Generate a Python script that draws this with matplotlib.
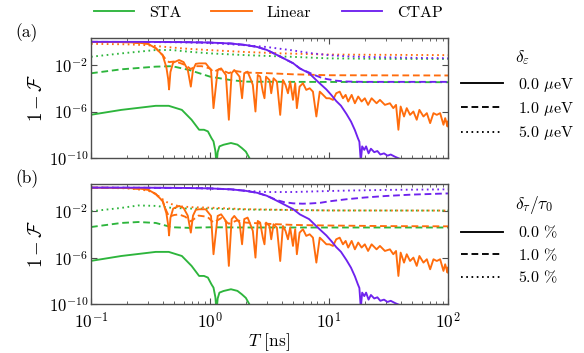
import numpy as np
import matplotlib
matplotlib.use("Agg")
import matplotlib.pyplot as plt
from matplotlib.lines import Line2D

plt.rcParams['font.family'] = 'serif'
plt.rcParams['font.serif'] = ['cmr10', 'DejaVu Serif']
plt.rcParams['mathtext.fontset'] = 'cm'
plt.rcParams['axes.unicode_minus'] = False
plt.rcParams['font.size'] = 11

# ---------------- data (log10 of 1-F) ----------------
# ideal (delta = 0) curves, shared by both panels
T_sta0 = [0.1, 0.18, 0.35, 0.45, 0.58, 0.7, 0.81, 0.89, 0.96, 1.03, 1.07, 1.11, 1.135,
          1.16, 1.2, 1.3, 1.5, 1.7, 1.85, 2.0, 2.17, 2.3]
L_sta0 = [-6.28, -5.86, -5.51, -5.51, -5.86, -6.71, -7.57, -7.57, -7.71, -8.3, -8.57, -9.4, -10.6,
          -9.5, -9.0, -8.86, -8.71, -8.85, -9.14, -9.45, -10.1, -10.8]

T_lin0 = [0.1, 0.15, 0.2, 0.25, 0.3, 0.35, 0.4, 0.43, 0.445, 0.453, 0.465, 0.49, 0.55, 0.6, 0.65,
          0.69, 0.72, 0.76, 0.81, 0.92, 1.02, 1.07, 1.16, 1.24, 1.36, 1.44, 1.52, 1.60, 1.77,
          1.86, 1.94, 2.07, 2.21, 2.29, 2.41, 2.52, 2.64, 2.78, 2.87, 2.96, 3.16, 3.27, 3.42,
          3.65, 3.89, 4.10, 4.31, 4.52, 4.72, 4.98, 5.20, 5.37, 5.66, 6.04, 6.44, 6.88, 7.33,
          7.83, 8.36, 8.92, 9.51, 10.1, 10.8, 11.5, 12.3, 13.1, 13.8, 14.5, 15.5, 16.5, 17.6,
          18.8, 20.0, 21.3, 22.8, 25.1, 26.8, 29.5, 32.5, 34.7, 36.6, 38.3, 40.0, 42.7, 45.0,
          48.0, 51.2, 54.6, 57.5, 62.2, 66.4, 70.8, 75.5, 80.5, 85.9, 91.6, 94.7, 99.0, 100.0]
L_lin0 = [-0.01, -0.02, -0.04, -0.08, -0.17, -0.55, -1.15, -2.2, -3.2, -4.1, -2.6, -1.8, -1.57,
          -1.75, -2.4, -3.86, -2.4, -1.9, -1.86, -1.86, -2.43, -5.71, -2.43, -2.29, -2.86, -6.71,
          -2.7, -2.43, -3.0, -4.86, -2.7, -2.57, -3.29, -3.71, -6.0, -2.86, -3.0, -4.29, -4.86,
          -3.0, -3.29, -4.43, -3.14, -3.43, -6.29, -3.29, -3.71, -4.43, -3.43, -5.0, -3.57,
          -5.71, -3.86, -3.57, -4.14, -4.0, -4.29, -6.43, -4.29, -4.57, -4.86, -4.86, -5.0,
          -4.43, -4.29, -4.86, -4.57, -5.14, -4.57, -5.29, -4.71, -5.14, -4.86, -5.43, -4.86,
          -5.29, -5.0, -5.43, -5.29, -5.71, -5.43, -7.57, -5.57, -6.43, -5.71, -6.29, -6.0,
          -6.71, -5.86, -6.43, -6.14, -7.0, -6.14, -6.29, -6.14, -7.14, -6.57, -7.29, -6.86]

T_ctap0 = [0.1, 0.3, 0.6, 1.0, 1.5, 2.0, 2.5, 3.0, 3.6, 4.2, 5.0, 5.7, 6.8, 8.0, 9.5, 10.5,
           11.5, 12.6, 14.0, 15.3, 16.5, 17.5, 18.0, 18.5, 19.0, 19.8, 20.5, 21.5, 22.5, 24.0,
           25.5, 27.0, 29.0, 31.0, 33.0, 36.0, 40.0, 45.0, 100.0]
L_ctap0 = [-0.005, -0.01, -0.03, -0.07, -0.15, -0.28, -0.45, -0.7, -1.1, -1.45, -1.85, -2.3,
           -2.7, -3.4, -4.1, -4.6, -5.1, -5.5, -6.2, -6.86, -7.6, -8.3, -8.6, -10.3, -9.0, -9.3,
           -9.0, -9.6, -9.2, -9.5, -9.4, -9.7, -9.6, -9.8, -9.7, -9.9, -10.1, -10.4, -11.0]

# panel (a): detuning noise delta_eps = 1.0 and 5.0 ueV
T_sta_a1 = [0.1, 0.18, 0.35, 0.48, 0.67, 1.0, 1.5, 2.0, 5.0, 100.0]
L_sta_a1 = [-2.71, -2.37, -2.14, -2.1, -2.43, -3.0, -3.3, -3.43, -3.45, -3.48]
T_sta_a5 = [0.1, 0.18, 0.35, 0.48, 0.67, 1.0, 2.0, 5.0, 10.0, 30.0, 100.0]
L_sta_a5 = [-1.29, -1.0, -0.71, -0.71, -0.86, -1.0, -1.15, -1.3, -1.43, -1.47, -1.48]

T_lin_a1 = [0.1, 0.2, 0.3, 0.35, 0.4, 0.43, 0.453, 0.5, 0.55, 0.62, 0.69, 0.75, 0.85, 1.0,
            1.07, 1.2, 1.44, 1.6, 2.0, 3.0, 5.0, 10.0, 100.0]
L_lin_a1 = [-0.01, -0.04, -0.17, -0.55, -1.15, -1.6, -1.75, -1.7, -1.8, -2.0, -2.35, -2.1,
            -2.1, -2.3, -2.6, -2.35, -2.7, -2.5, -2.65, -2.7, -2.8, -2.88, -2.9]
T_lin_a5 = [0.1, 0.2, 0.3, 0.4, 0.6, 1.0, 2.0, 4.0, 10.0, 100.0]
L_lin_a5 = [-0.18, -0.22, -0.3, -0.42, -0.58, -0.72, -0.88, -1.0, -1.1, -1.15]

T_ctap_a1 = [0.1, 0.6, 1.0, 1.5, 2.0, 2.5, 3.0, 3.6, 4.2, 5.0, 5.7, 6.8, 7.3, 8.4, 9.5, 11.5,
             14.0, 20.0, 100.0]
L_ctap_a1 = [-0.005, -0.03, -0.07, -0.15, -0.28, -0.45, -0.7, -1.1, -1.45, -1.85, -2.3, -2.65,
             -2.8, -3.05, -3.2, -3.35, -3.42, -3.45, -3.45]
T_ctap_a5 = [0.1, 0.5, 1.0, 2.0, 3.0, 5.0, 7.0, 10.0, 15.0, 25.0, 50.0, 100.0]
L_ctap_a5 = [-0.01, -0.04, -0.1, -0.3, -0.45, -0.75, -0.98, -1.15, -1.27, -1.32, -1.38, -1.42]

# panel (b): tau noise delta_tau/tau0 = 1.0 and 5.0 %
T_sta_b1 = [0.1, 0.18, 0.25, 0.35, 0.48, 0.67, 1.0, 2.0, 10.0, 100.0]
L_sta_b1 = [-3.38, -3.03, -2.95, -3.03, -3.4, -3.45, -3.4, -3.42, -3.42, -3.42]
T_sta_b5 = [0.1, 0.18, 0.25, 0.35, 0.48, 0.67, 1.0, 2.0, 5.0, 10.0, 100.0]
L_sta_b5 = [-2.03, -1.74, -1.53, -1.57, -1.74, -1.8, -1.8, -1.88, -1.92, -1.96, -1.97]

T_lin_b1 = [0.1, 0.2, 0.3, 0.35, 0.4, 0.43, 0.453, 0.5, 0.55, 0.62, 0.69, 0.8, 0.95, 1.07,
            1.25, 1.44, 1.7, 2.0, 3.0, 5.0, 10.0, 30.0, 100.0]
L_lin_b1 = [-0.01, -0.04, -0.17, -0.55, -1.15, -2.0, -2.5, -2.35, -2.3, -2.5, -2.9, -2.4,
            -2.5, -3.0, -2.6, -3.1, -2.8, -3.0, -3.1, -3.2, -3.25, -3.3, -3.32]
T_lin_b5 = [0.1, 0.2, 0.3, 0.35, 0.4, 0.45, 0.55, 0.7, 1.0, 2.0, 5.0, 10.0, 100.0]
L_lin_b5 = [-0.02, -0.06, -0.25, -0.55, -1.0, -1.35, -1.6, -1.68, -1.72, -1.85, -1.92, -1.96, -1.97]

T_ctap_b1 = [0.1, 0.6, 1.0, 1.5, 2.0, 2.5, 3.0, 3.6, 4.2, 5.0, 6.0, 7.0, 8.5, 10.0, 14.0,
             20.0, 30.0, 50.0, 100.0]
L_ctap_b1 = [-0.005, -0.03, -0.07, -0.15, -0.28, -0.45, -0.7, -1.05, -1.25, -1.35, -1.38,
             -1.36, -1.3, -1.18, -1.0, -0.85, -0.72, -0.6, -0.5]
T_ctap_b5 = [0.1, 0.6, 1.0, 1.5, 2.0, 3.0, 5.0, 8.0, 15.0, 30.0, 100.0]
L_ctap_b5 = [-0.005, -0.03, -0.08, -0.16, -0.28, -0.38, -0.38, -0.32, -0.25, -0.2, -0.15]

protocols = ['STA', 'Linear', 'CTAP']
colors = {'STA': '#2db53c', 'Linear': '#ff6c0c', 'CTAP': '#6e22ee'}
eps_labels = [r'0.0 $\mu$eV', r'1.0 $\mu$eV', r'5.0 $\mu$eV']
tau_labels = [r'0.0 $\%$', r'1.0 $\%$', r'5.0 $\%$']

# ---------------- figure ----------------
W, H = 584, 353
fig = plt.figure(figsize=(W / 100, H / 100), dpi=100)

def ax_rect(x0, y0, x1, y1):
    return [x0 / W, 1 - y1 / H, (x1 - x0) / W, (y1 - y0) / H]

ax_a = fig.add_axes(ax_rect(91, 37.7, 448, 158))
ax_b = fig.add_axes(ax_rect(91, 183.5, 448, 304.3))

ls_dash = (0, (3.6, 2.0))
ls_dot = (0, (0.9, 1.9))
lw = 1.35

ideal = {'STA': (T_sta0, L_sta0), 'Linear': (T_lin0, L_lin0), 'CTAP': (T_ctap0, L_ctap0)}
panel_a = {'STA': [(T_sta_a1, L_sta_a1), (T_sta_a5, L_sta_a5)],
           'Linear': [(T_lin_a1, L_lin_a1), (T_lin_a5, L_lin_a5)],
           'CTAP': [(T_ctap_a1, L_ctap_a1), (T_ctap_a5, L_ctap_a5)]}
panel_b = {'STA': [(T_sta_b1, L_sta_b1), (T_sta_b5, L_sta_b5)],
           'Linear': [(T_lin_b1, L_lin_b1), (T_lin_b5, L_lin_b5)],
           'CTAP': [(T_ctap_b1, L_ctap_b1), (T_ctap_b5, L_ctap_b5)]}

frame_col = '0.3'
for ax, noisy in [(ax_a, panel_a), (ax_b, panel_b)]:
    for p in protocols:
        c = colors[p]
        for (t, l), ls in zip(noisy[p], [ls_dash, ls_dot]):
            ax.plot(t, 10 ** np.array(l), color=c, lw=lw, ls=ls)
    for p in protocols:
        t, l = ideal[p]
        ax.plot(t, 10 ** np.array(l), color=colors[p], lw=lw, ls='-')
    ax.set_xscale('log')
    ax.set_yscale('log')
    ax.set_xlim(0.1, 100)
    ax.set_ylim(1e-10, 10 ** 0.35)
    ax.set_yticks([1e-10, 1e-6, 1e-2])
    ax.yaxis.set_minor_locator(matplotlib.ticker.NullLocator())
    ax.tick_params(which='both', direction='in', top=True, right=True, color=frame_col,
                   labelsize=12.5)
    ax.tick_params(which='major', length=4, width=0.8)
    ax.tick_params(which='minor', length=2.2, width=0.6)
    ax.tick_params(axis='y', pad=2, labelsize=12)
    ax.tick_params(axis='x', pad=5)
    for s in ax.spines.values():
        s.set_color(frame_col)
        s.set_linewidth(1.0)
    ax.set_ylabel(r'$1-\mathcal{F}$', fontsize=13.5, labelpad=2)

ax_a.tick_params(labelbottom=False)
ax_b.set_xlabel(r'$T$ [ns]', fontsize=12.5, labelpad=0)

fig.text(15 / W, 1 - 33 / H, '(a)', fontsize=12.5, va='center', ha='left')
fig.text(15 / W, 1 - 179 / H, '(b)', fontsize=12.5, va='center', ha='left')

# top legend (protocols)
h_top = [Line2D([], [], color=colors[p], lw=lw) for p in protocols]
fig.legend(h_top, protocols, loc='center', bbox_to_anchor=(268 / W, 1 - 13 / H),
           ncol=3, frameon=False, handlelength=2.55, handletextpad=0.9,
           columnspacing=1.9, fontsize=11.5, borderpad=0, borderaxespad=0)

# right legends (noise strength)
h_ls = [Line2D([], [], color='k', lw=lw, ls='-'),
        Line2D([], [], color='k', lw=lw, ls=ls_dash),
        Line2D([], [], color='k', lw=lw, ls=ls_dot)]
for ax, labels, title, ty, y0 in [(ax_a, eps_labels, r'$\delta_\varepsilon$', 58, 82),
                                  (ax_b, tau_labels, r'$\delta_\tau/\tau_0$', 205, 230)]:
    leg = ax.legend(h_ls, labels, loc='upper left',
                    bbox_to_anchor=(461 / W, 1 - (y0 - 6) / H),
                    bbox_transform=fig.transFigure, frameon=False,
                    handlelength=2.6, handletextpad=0.95, labelspacing=0.38,
                    fontsize=11.5, borderpad=0, borderaxespad=0)
    fig.text(515 / W, 1 - ty / H, title, fontsize=12.5, va='center', ha='left')

fig.savefig('out.png', dpi=100)
